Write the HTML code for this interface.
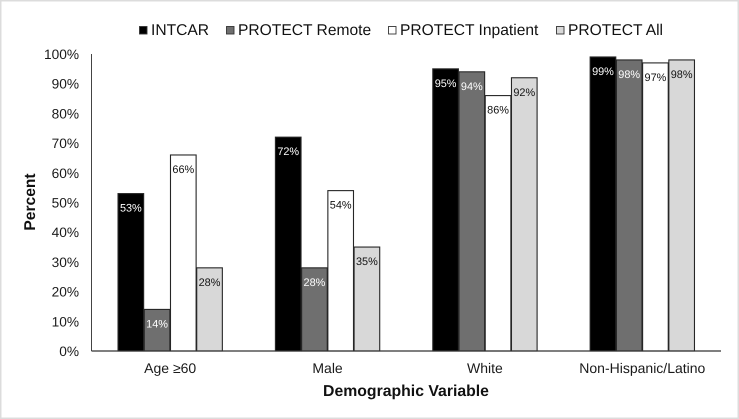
<!DOCTYPE html>
<html lang="en">
<head>
<meta charset="utf-8">
<title>Demographic variables by study</title>
<style>
html,body{margin:0;padding:0;background:#fff;}
body{width:739px;height:419px;overflow:hidden;}
svg{display:block;font-family:"Liberation Sans",Arial,sans-serif;text-rendering:geometricPrecision;}
</style>
</head>
<body>
<svg id="chart" width="739" height="419" viewBox="0 0 739 419" xmlns="http://www.w3.org/2000/svg">
  <rect x="0.75" y="0.75" width="737.5" height="417.5" fill="#fff" stroke="#dcdcdc" stroke-width="1.5"/>
  <g id="grid-layer"></g>
  <g id="bar-layer"></g>
  <g id="axis-layer"></g>
  <g id="legend-layer"></g>
  <text transform="translate(35,202) rotate(-90)" text-anchor="middle" font-size="15.6" font-weight="700" fill="#111">Percent</text>
  <text x="406" y="396" text-anchor="middle" font-size="15.8" font-weight="700" fill="#111">Demographic Variable</text>
</svg>
<script>
const categories = ["Age ≥60", "Male", "White", "Non-Hispanic/Latino"];
const seriesNames = ["INTCAR", "PROTECT Remote", "PROTECT Inpatient", "PROTECT All"];
const intcarValues = [53, 72, 95, 99];
const remoteValues = [14, 28, 94, 98];
const inpatientValues = [66, 54, 86, 97];
const allValues = [28, 35, 92, 98];
const yTicks = [0, 10, 20, 30, 40, 50, 60, 70, 80, 90, 100];

const seriesValues = [intcarValues, remoteValues, inpatientValues, allValues];
const seriesFill = ["#000000", "#6f6f6f", "#ffffff", "#d8d8d8"];
const seriesLabelColor = ["#ffffff", "#ffffff", "#111111", "#111111"];
const seriesKey = ["intcar", "protect-remote", "protect-inpatient", "protect-all"];
const legendSwatchX = [139, 226, 388, 556];

const plotLeft = 91.5, plotRight = 721, plotTop = 54, plotBottom = 351;
const NS = "http://www.w3.org/2000/svg";

function yScale(v) {
  return plotBottom - (v / 100) * (plotBottom - plotTop);
}
function bandWidth() {
  return (plotRight - plotLeft) / categories.length;
}
function barWidth() {
  return bandWidth() / (seriesValues.length + 2);
}
function barX(catIndex, seriesIndex) {
  return plotLeft + catIndex * bandWidth() + barWidth() * (seriesIndex + 1);
}
function make(tag, attrs, parent, text) {
  const el = document.createElementNS(NS, tag);
  for (const k in attrs) el.setAttribute(k, attrs[k]);
  if (text !== undefined) el.textContent = text;
  parent.appendChild(el);
  return el;
}

const barLayer = document.getElementById("bar-layer");
const axisLayer = document.getElementById("axis-layer");
const gridLayer = document.getElementById("grid-layer");
const legendLayer = document.getElementById("legend-layer");

yTicks.forEach(function (t) {
  const label = make("text", {x: 79, y: yScale(t) + 5, "text-anchor": "end", "font-size": 13.7, fill: "#1a1a1a"}, gridLayer, t + "%");
  
  
});

seriesValues.forEach(function (values, s) {
  values.forEach(function (v, c) {
    const x = barX(c, s), w = barWidth(), y = yScale(v);
    const bar = make("rect", {x: x + 0.3, y: y, width: w - 0.6, height: plotBottom - y, fill: seriesFill[s], stroke: "#262626", "stroke-width": 1.1}, barLayer);
    
    
    const label = make("text", {x: x + w / 2, y: y + 18, "text-anchor": "middle", "font-size": 10.9, fill: seriesLabelColor[s]}, barLayer, v + "%");
    
    
  });
});

const yAxis = make("line", {x1: plotLeft, x2: plotLeft, y1: plotTop, y2: plotBottom, stroke: "#444", "stroke-width": 1}, axisLayer);


const xAxis = make("line", {x1: plotLeft, x2: plotRight, y1: plotBottom, y2: plotBottom, stroke: "#333", "stroke-width": 1.3}, axisLayer);



categories.forEach(function (name, c) {
  const label = make("text", {x: plotLeft + (c + 0.5) * bandWidth(), y: 373, "text-anchor": "middle", "font-size": 14, fill: "#1a1a1a"}, axisLayer, name);
  
  
});

seriesNames.forEach(function (name, s) {
  const swatch = make("rect", {x: legendSwatchX[s] + 0.5, y: 26.5, width: 7.5, height: 7.5, fill: seriesFill[s], stroke: "#333", "stroke-width": 0.9}, legendLayer);
  
  
  const label = make("text", {x: legendSwatchX[s] + 12, y: 35, "font-size": 15.6, fill: "#111"}, legendLayer, name);
  
  
});
</script>
</body>
</html>
